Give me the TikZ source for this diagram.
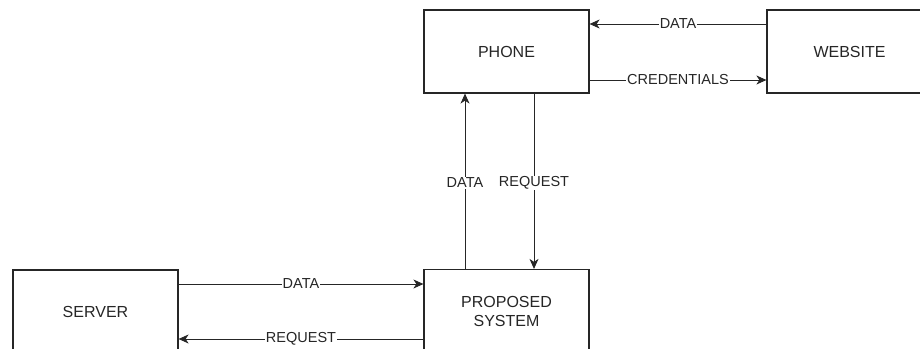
\documentclass[tikz,border=0pt]{standalone}
\usepackage{fontspec}
\setmainfont{Liberation Sans}
\usetikzlibrary{arrows.meta}
\begin{document}
\begin{tikzpicture}[x=1pt,y=-1pt,
  box/.style={draw=black!85,line width=1.2pt,minimum width=165pt,minimum height=83pt,
    inner sep=0pt,align=center,text=black!85,font=\fontsize{16}{19}\selectfont},
  flow/.style={draw=black!85,line width=0.9pt,-{Stealth[length=10pt,width=9pt,inset=3pt]}},
  lbl/.style={fill=white,inner sep=1pt,text=black!85,font=\fontsize{14.5}{17}\selectfont}]
  \useasboundingbox (0,0) rectangle (920,348);
  \fill[white] (0,0) rectangle (920,348);
  \clip (0,0) rectangle (920,348);

  % blocks
  \node[box] (phone) at (506.5,51.5) {PHONE};
  \node[box] (web) at (849.5,51.5) {WEBSITE};
  \node[box] (server) at (95.5,311.5) {SERVER};
  \node[box] (sys) at (506.5,311) {PROPOSED\\SYSTEM};

  % phone <-> website
  \draw[flow] ([yshift=27.5pt]web.west) -- node[lbl] {DATA} ([yshift=27.5pt]phone.east);
  \draw[flow] ([yshift=-28.5pt]phone.east) -- node[lbl] {CREDENTIALS} ([yshift=-28.5pt]web.west);

  % phone <-> proposed system
  \draw[flow] ([xshift=-41.5pt]sys.north) -- node[lbl,pos=0.49] {DATA} ([xshift=-41.5pt]phone.south);
  \draw[flow] ([xshift=27.5pt]phone.south) -- node[lbl,pos=0.51] {REQUEST} ([xshift=27.5pt]sys.north);

  % server <-> proposed system
  \draw[flow] ([yshift=27.5pt]server.east) -- node[lbl] {DATA} ([yshift=27.5pt]server.east -| sys.west);
  \draw[flow] ([yshift=-27.5pt]server.east -| sys.west) -- node[lbl] {REQUEST} ([yshift=-27.5pt]server.east);
\end{tikzpicture}
\end{document}
